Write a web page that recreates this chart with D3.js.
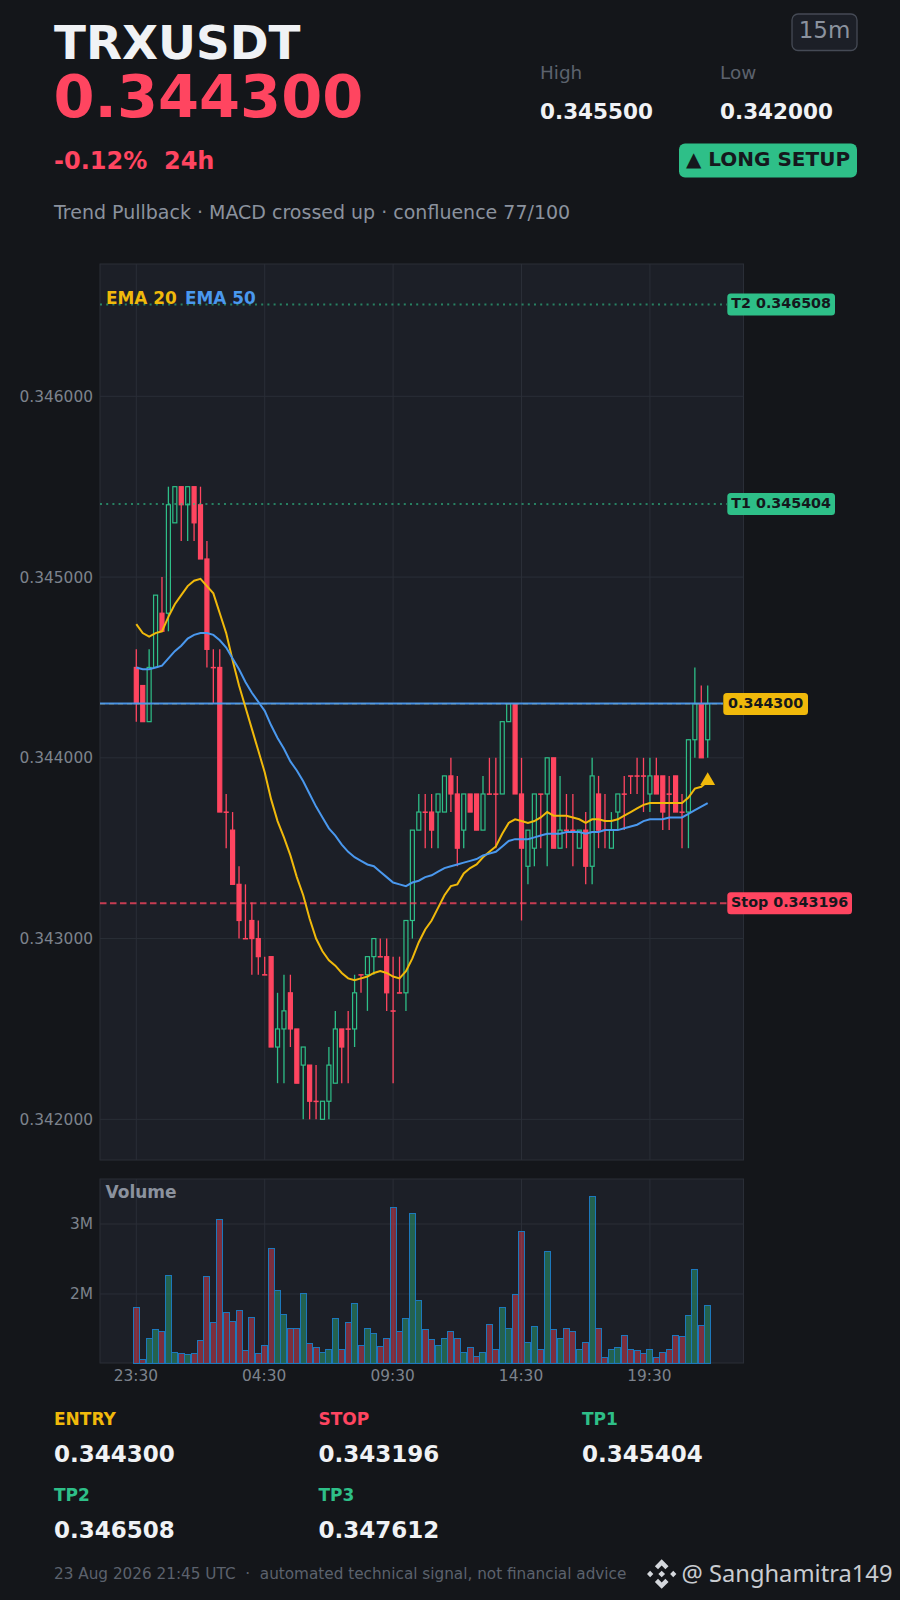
<!DOCTYPE html>
<html><head><meta charset="utf-8">
<script src="https://cdn.jsdelivr.net/npm/d3@7/dist/d3.min.js"></script>
<style>
html,body{margin:0;padding:0;background:#14161a;}
svg{display:block;font-family:"DejaVu Sans",sans-serif;}
text{white-space:pre;}
</style></head><body>
<svg id="c" width="900" height="1600"></svg>
<script>
const symbol="TRXUSDT", priceText="0.344300", changeText="-0.12%  24h", timeframe="15m";
const subtitle="Trend Pullback · MACD crossed up · confluence 77/100";
const footerText="23 Aug 2026 21:45 UTC  ·  automated technical signal, not financial advice";
const watermark="@ Sanghamitra149";
const xTickIndex=[0,20,40,60,80];
const xTickLabels=["23:30","04:30","09:30","14:30","19:30"];
const yTicks=[0.342,0.343,0.344,0.345,0.346];
const volTicks=[2e6,3e6];
const opens=[.3445,.3444,.3442,.3445,.3448,.3448,.3453,.3455,.3454,.3455,.3454,.3451,.3445,.3445,.3437,.3436,.3433,.343,.3431,.343,.3428,.3429,.3424,.3425,.3427,.3425,.3423,.3423,.3421,.342,.3421,.3422,.3425,.3425,.3425,.3428,.3428,.3429,.3429,.3429,.3426,.3427,.3427,.3431,.3436,.3437,.3437,.3437,.3437,.3439,.3438,.3436,.3438,.3438,.3436,.3438,.3438,.3438,.3442,.3443,.3438,.3434,.3435,.3438,.3438,.344,.3435,.3436,.3436,.3435,.3436,.3434,.3438,.3436,.3435,.3437,.3438,.3439,.3439,.3439,.3438,.3439,.3439,.3438,.3439,.3437,.3437,.3441,.3443,.3441];
const highs=[.3446,.3444,.3446,.3449,.345,.3455,.3455,.3455,.3455,.3455,.3455,.3452,.3446,.3446,.3438,.3437,.3434,.3433,.3432,.3431,.3429,.3429,.3427,.3428,.3428,.3425,.3424,.3423,.3423,.3421,.3424,.3426,.3425,.3426,.3428,.3428,.3429,.343,.343,.343,.3429,.3429,.3431,.3436,.3438,.3438,.3438,.3438,.3439,.344,.3439,.3438,.3438,.3438,.3439,.344,.344,.3442,.3443,.3443,.344,.3436,.3438,.3438,.344,.344,.3439,.3438,.3438,.3436,.3437,.344,.3439,.3438,.3437,.3438,.3439,.3439,.344,.344,.344,.344,.3439,.3439,.3439,.3438,.3441,.3445,.3444,.3444];
const lows=[.3442,.3442,.3442,.3445,.3447,.3447,.3453,.3452,.3452,.3452,.3451,.3445,.3443,.3437,.3435,.3433,.343,.343,.3428,.3428,.3428,.3424,.3422,.3422,.3424,.3422,.342,.342,.342,.342,.342,.3422,.3422,.3422,.3424,.3427,.3426,.3428,.3429,.3426,.3422,.3427,.3426,.343,.3436,.3435,.3435,.3435,.3437,.3437,.3434,.3435,.3437,.3436,.3436,.3438,.3435,.3438,.3442,.3438,.3431,.3433,.3434,.3435,.3434,.3435,.3435,.3435,.3434,.3435,.3433,.3433,.3435,.3435,.3435,.3436,.3436,.3438,.3438,.3437,.3437,.3438,.3436,.3436,.3437,.3435,.3435,.344,.344,.344];
const closes=[.3443,.3442,.3445,.3449,.3447,.3454,.3455,.3454,.3455,.3453,.3451,.3446,.3445,.3437,.3437,.3433,.3431,.343,.343,.3429,.3428,.3424,.3425,.3426,.3425,.3422,.3424,.3421,.3421,.3421,.3423,.3425,.3424,.3425,.3427,.3428,.3429,.343,.3429,.3427,.3426,.3427,.3431,.3436,.3437,.3437,.3436,.3438,.3439,.3438,.3435,.3438,.3437,.3436,.3438,.3438,.3438,.3442,.3443,.3438,.3435,.3436,.3438,.3438,.344,.3435,.3436,.3436,.3436,.3436,.3434,.3439,.3436,.3436,.3436,.3438,.3438,.3439,.3439,.3439,.3439,.3438,.3437,.3438,.3437,.3437,.3441,.3443,.344,.3443];
const ema20=[.34474,.34469,.34467,.34469,.3447,.34478,.34485,.3449,.34495,.34498,.34499,.34495,.34491,.3448,.34469,.34454,.3444,.34428,.34416,.34404,.34392,.34377,.34365,.34356,.34346,.34334,.34324,.34311,.343,.34293,.34288,.34285,.34281,.34278,.34277,.34278,.34279,.34281,.34282,.34281,.34279,.34278,.34282,.34289,.34298,.34305,.3431,.34317,.34324,.34329,.3433,.34336,.34339,.34341,.34345,.34348,.34351,.34358,.34364,.34366,.34365,.34364,.34365,.34367,.3437,.34368,.34368,.34368,.34367,.34366,.34364,.34366,.34366,.34365,.34365,.34366,.34368,.3437,.34372,.34374,.34375,.34375,.34375,.34375,.34375,.34375,.34378,.34383,.34384,.34387];
const ema50=[.3445,.34449,.34449,.3445,.34451,.34455,.34459,.34462,.34466,.34468,.34469,.34469,.34468,.34465,.34461,.34455,.34449,.34442,.34436,.34431,.34426,.34418,.34411,.34405,.34398,.34393,.34387,.3438,.34373,.34367,.34361,.34357,.34352,.34348,.34345,.34343,.34341,.3434,.34337,.34334,.34331,.3433,.34329,.34331,.34332,.34334,.34335,.34337,.34339,.3434,.34341,.34342,.34343,.34344,.34346,.34347,.34348,.34351,.34354,.34355,.34355,.34355,.34356,.34357,.34358,.34358,.34358,.34359,.34359,.34359,.34358,.34359,.34359,.3436,.3436,.3436,.34361,.34362,.34363,.34365,.34366,.34366,.34366,.34367,.34367,.34367,.34369,.34371,.34373,.34375];
const volumesM=[1.8,1.057,1.37,1.486,1.457,2.27,1.171,1.143,1.129,1.143,1.329,2.257,1.586,3.07,1.729,1.6,1.771,1.186,1.657,1.143,1.271,2.657,2.057,1.7,1.5,1.5,2.014,1.286,1.229,1.157,1.214,1.643,1.2,1.586,1.871,1.271,1.514,1.429,1.243,1.371,3.229,1.471,1.643,3.157,1.914,1.486,1.343,1.271,1.357,1.471,1.357,1.157,1.229,1.114,1.171,1.557,1.2,1.814,1.514,1.986,2.886,1.3,1.529,1.214,2.614,1.486,1.371,1.514,1.471,1.214,1.3,3.4,1.5,1.086,1.214,1.229,1.4,1.2,1.186,1.143,1.2,1.086,1.171,1.2,1.414,1.386,1.686,2.357,1.543,1.829];
const levelNames=["T2","T1","Entry","Stop"];
const levelValues=[0.346508,0.345404,0.3443,0.343196];
const statLabels=["ENTRY","STOP","TP1","TP2","TP3"];
const statValues=["0.344300","0.343196","0.345404","0.346508","0.347612"];
const headHigh="0.345500", headLow="0.342000";

const COL={bg:"#14161a",panel:"#1c1f27",grid:"#2a2e37",green:"#2ebf88",red:"#ff4560",gold:"#f0b90b",blue:"#4a98ee",txt:"#f0f2f5",muted:"#8b929e",dim:"#5c626d",axis:"#7d838d",dark:"#15181d"};
const svg=d3.select("#c");
svg.append("rect").attr("width",900).attr("height",1600).attr("fill",COL.bg);
function T(x,y,s,size,col,w,anchor){return svg.append("text").attr("x",x).attr("y",y).attr("font-size",size).attr("fill",col).attr("font-weight",w||400).attr("text-anchor",anchor||"start").text(s);}

// header
T(54,59,symbol,46.8,COL.txt,700);
T(53.5,117,priceText,59,COL.red,700);
T(54,168.5,changeText,24,COL.red,700);
T(54,219,subtitle,19,COL.muted);
T(540,78.5,"High",18.4,COL.dim);
T(720,78.5,"Low",18.4,COL.dim);
T(540,119,headHigh,21.5,COL.txt,700);
T(720,119,headLow,21.5,COL.txt,700);
svg.append("rect").attr("x",792).attr("y",14).attr("width",65).attr("height",36.5).attr("rx",6).attr("fill",COL.panel).attr("stroke","#454a55").attr("stroke-width",1.3);
T(824.5,38,timeframe,23,COL.muted,400,"middle");
svg.append("rect").attr("x",679).attr("y",143.5).attr("width",178).attr("height",34).attr("rx",6).attr("fill",COL.green);
T(768,166,"▲ LONG SETUP",20,COL.dark,700,"middle");

// scales
const x=d3.scaleLinear().domain([0,89]).range([136.3,707.7]);
const y=d3.scaleLinear().domain([0.341775,0.346732]).range([1160,264]);
const vy=d3.scaleLinear().domain([1.014,3.643]).range([1363,1179]);
const PL=100,PR=743.5;

// price panel
svg.append("rect").attr("x",PL).attr("y",264).attr("width",PR-PL).attr("height",896).attr("fill",COL.panel).attr("stroke",COL.grid).attr("stroke-width",1);
const g=svg.append("g");
g.selectAll(".hg").data(yTicks).join("line").attr("x1",PL).attr("x2",PR).attr("y1",d=>y(d)).attr("y2",d=>y(d)).attr("stroke",COL.grid).attr("stroke-width",1);
g.selectAll(".vg").data(xTickIndex).join("line").attr("x1",d=>x(d)).attr("x2",d=>x(d)).attr("y1",264).attr("y2",1160).attr("stroke",COL.grid).attr("stroke-width",1);

const yAxis=d3.axisLeft(y).tickValues(yTicks).tickSize(0).tickPadding(7).tickFormat(d3.format(".6f"));
const ya=svg.append("g").attr("transform",`translate(${PL},0)`).call(yAxis);
ya.select(".domain").remove();
ya.selectAll("text").attr("fill",COL.axis).attr("font-size",15.4).attr("font-family","DejaVu Sans");

// candles
const cand=d3.range(opens.length).map(i=>({i,o:opens[i],h:highs[i],l:lows[i],c:closes[i]}));
const cg=svg.append("g");
cg.selectAll("line").data(cand).join("line")
  .attr("x1",d=>x(d.i)).attr("x2",d=>x(d.i)).attr("y1",d=>y(d.h)).attr("y2",d=>y(d.l))
  .attr("stroke",d=>d.c>d.o?COL.green:COL.red).attr("stroke-width",1.3);
cg.selectAll("rect").data(cand).join("rect")
  .attr("x",d=>x(d.i)-2).attr("width",4)
  .attr("y",d=>y(Math.max(d.o,d.c))).attr("height",d=>Math.max(0.3,Math.abs(y(d.o)-y(d.c))))
  .attr("fill",d=>d.c>d.o?COL.panel:COL.red)
  .attr("stroke",d=>d.c>d.o?COL.green:COL.red).attr("stroke-width",1.2);

// level lines
svg.append("line").attr("x1",PL).attr("x2",727).attr("y1",y(levelValues[0])).attr("y2",y(levelValues[0])).attr("stroke",COL.green).attr("stroke-opacity",.62).attr("stroke-width",2).attr("stroke-dasharray","2 4.2");
svg.append("line").attr("x1",PL).attr("x2",727).attr("y1",y(levelValues[1])).attr("y2",y(levelValues[1])).attr("stroke",COL.green).attr("stroke-opacity",.62).attr("stroke-width",2).attr("stroke-dasharray","2 4.2");
svg.append("line").attr("x1",PL).attr("x2",727).attr("y1",y(levelValues[3])).attr("y2",y(levelValues[3])).attr("stroke",COL.red).attr("stroke-opacity",.75).attr("stroke-width",2).attr("stroke-dasharray","6.5 3.5");
svg.append("line").attr("x1",PL).attr("x2",723).attr("y1",y(levelValues[2])).attr("y2",y(levelValues[2])).attr("stroke",COL.gold).attr("stroke-width",1.2).attr("stroke-dasharray","5 4");
svg.append("line").attr("x1",PL).attr("x2",723).attr("y1",y(levelValues[2])).attr("y2",y(levelValues[2])).attr("stroke",COL.blue).attr("stroke-opacity",.95).attr("stroke-width",2);

// EMA
const line=d3.line().x((d,i)=>x(i)).y(d=>y(d));
svg.append("path").attr("d",line(ema20)).attr("fill","none").attr("stroke",COL.gold).attr("stroke-width",2);
svg.append("path").attr("d",line(ema50)).attr("fill","none").attr("stroke",COL.blue).attr("stroke-width",2);
const last=ema20.length-1;
svg.append("path").attr("d",d3.symbol(d3.symbolTriangle,95)()).attr("transform",`translate(${x(last)},${y(ema20[last])-0.5})`).attr("fill",COL.gold);

T(106,303.5,"EMA 20",16.9,COL.gold,700);
T(185,303.5,"EMA 50",16.9,COL.blue,700);

// tags
function tag(x0,x1,yy,txt,fill){
  svg.append("rect").attr("x",x0).attr("y",yy-11).attr("width",x1-x0).attr("height",22).attr("rx",3.5).attr("fill",fill);
  T((x0+x1)/2,yy+4,txt,14.3,COL.dark,700,"middle");
}
tag(727.3,835,y(levelValues[0]),"T2 0.346508",COL.green);
tag(727.3,835,y(levelValues[1]),"T1 0.345404",COL.green);
tag(727.3,852,y(levelValues[3]),"Stop 0.343196",COL.red);
tag(723.3,808,y(levelValues[2])+.5,"0.344300",COL.gold);

// volume panel
svg.append("rect").attr("x",PL).attr("y",1179).attr("width",PR-PL).attr("height",184).attr("fill",COL.panel).attr("stroke",COL.grid).attr("stroke-width",1);
svg.selectAll(".vh").data(volTicks).join("line").attr("x1",PL).attr("x2",PR).attr("y1",d=>vy(d/1e6)).attr("y2",d=>vy(d/1e6)).attr("stroke",COL.grid);
svg.selectAll(".vv").data(xTickIndex).join("line").attr("x1",d=>x(d)).attr("x2",d=>x(d)).attr("y1",1179).attr("y2",1363).attr("stroke",COL.grid);
svg.append("g").attr("shape-rendering","crispEdges").selectAll("rect").data(volumesM).join("rect")
  .attr("x",(d,i)=>x(i)-3).attr("width",6)
  .attr("y",d=>vy(d)).attr("height",d=>vy.range()[0]-vy(d))
  .attr("fill",(d,i)=>closes[i]>opens[i]?"rgba(46,191,136,.42)":"rgba(255,69,96,.42)")
  .attr("stroke","#1c78bc").attr("stroke-width",1);
const vAxis=d3.axisLeft(vy).tickValues(volTicks.map(d=>d/1e6)).tickSize(0).tickPadding(7).tickFormat(d=>d+"M");
const va=svg.append("g").attr("transform",`translate(${PL},0)`).call(vAxis);
va.select(".domain").remove();
va.selectAll("text").attr("fill",COL.axis).attr("font-size",15.4).attr("font-family","DejaVu Sans");
const xAxis=d3.axisBottom(x).tickValues(xTickIndex).tickSize(0).tickPadding(7).tickFormat((d,i)=>xTickLabels[i]);
const xa=svg.append("g").attr("transform","translate(-1,1363)").call(xAxis);
xa.select(".domain").remove();
xa.selectAll("text").attr("fill",COL.axis).attr("font-size",15.4).attr("font-family","DejaVu Sans");
T(105.5,1198,"Volume",17,COL.muted,700);

// stats
const statX=[54,318.5,582,54,318.5];
const statY=[1424.5,1424.5,1424.5,1501,1501];
const statC=[COL.gold,COL.red,COL.green,COL.green,COL.green];
statLabels.forEach((s,i)=>{
  T(statX[i],statY[i],s,17,statC[i],700);
  T(statX[i],statY[i]+37,statValues[i],23,COL.txt,700);
});
T(54,1579,footerText,15.25,COL.dim);

// watermark
const wm=svg.append("g").attr("transform","translate(661.7,1574) scale(1.05)").attr("fill","#d4d7dc");
wm.append("path").attr("d","M0,-14 L6.5,-7.5 L3.5,-4.5 L0,-8 L-3.5,-4.5 L-6.5,-7.5 Z");
wm.append("path").attr("d","M0,14 L6.5,7.5 L3.5,4.5 L0,8 L-3.5,4.5 L-6.5,7.5 Z");
wm.append("path").attr("d","M-14,0 L-11,-3 L-8,0 L-11,3 Z M14,0 L11,-3 L8,0 L11,3 Z M0,-3.2 L3.2,0 L0,3.2 L-3.2,0 Z");
svg.append("text").attr("x",681.5).attr("y",1582).attr("font-size",23.7).attr("fill","#c9ccd1").attr("font-family","Noto Sans").text(watermark);
</script>
</body></html>
